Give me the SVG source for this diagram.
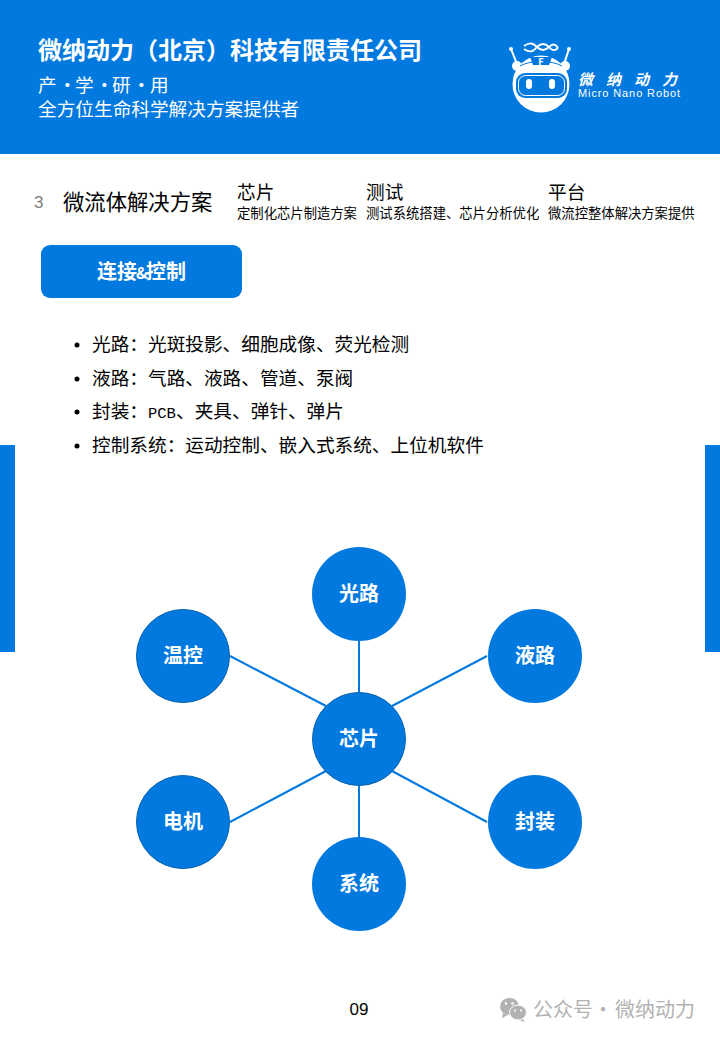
<svg xmlns="http://www.w3.org/2000/svg" width="720" height="1039" viewBox="0 0 720 1039">
<style>
text{font-family:"Noto Sans CJK SC","Liberation Sans",sans-serif}
.blue{fill:#0279de}
.n{fill:#0279de;stroke:#0a63ae;stroke-width:1}
.m{fill:#0279de}
.nt{fill:#fff;font-size:20px;font-weight:700;text-anchor:middle}
.c{stroke:#0279de;stroke-width:2;fill:none}
.b{fill:#000;font-size:18.67px}
.s{fill:#000;font-size:13.33px}
.w{fill:#fff}
</style>
<rect width="720" height="1039" fill="#fff"/>
<rect class="blue" width="720" height="154"/>
<rect class="blue" x="0" y="445" width="15" height="207"/>
<rect class="blue" x="705" y="445" width="15" height="207"/>
<text class="w" x="38" y="59" font-size="24" font-weight="700">微纳动力（北京）科技有限责任公司</text>
<text class="w" y="92" font-size="18.67" x="38 56 58 66 75 93 95 103 112 130 132 140 150">产 · 学 · 研 · 用</text>
<text class="w" x="38" y="116" font-size="18.67">全方位生命科学解决方案提供者</text>
<g id="logo">
<path d="M511 49L517 64M569 49L564 64" stroke="#fff" stroke-width="2"/>
<circle cx="511" cy="49" r="2" fill="#fff"/><circle cx="569" cy="49" r="2" fill="#fff"/>
<circle cx="517" cy="66" r="5" fill="#fff"/><circle cx="565" cy="66" r="5" fill="#fff"/>
<path d="M524 46C530 42 533 43 537 47C541 51 545 51 549 47C552 44 555 43 558 48M524 49C530 53 533 52 537 47C541 43 545 43 549 47C552 51 555 51 558 48" stroke="#fff" stroke-width="1.800" fill="none"/>
<circle cx="541" cy="84" r="28.500" fill="#fff"/>
<path d="M520 66C530 60 552 60 562 66" stroke="#0279de" stroke-width="1" fill="none"/>
<path d="M530 57H552L549 65H533Z" fill="#0279de"/>
<text class="w" x="541" y="64.500" font-size="9" font-weight="700" text-anchor="middle">F</text>
<rect x="516" y="73" width="51" height="25" rx="9" fill="#0279de"/>
<rect x="518.500" y="75.500" width="46" height="20" rx="7" fill="none" stroke="#fff" stroke-width="1"/>
<rect x="526" y="79" width="6" height="10" rx="3" fill="#fff"/><rect x="549" y="79" width="6" height="10" rx="3" fill="#fff"/>
<text class="w" x="578" y="85" font-size="15" font-weight="700" font-style="italic" letter-spacing="13">微纳动力</text>
<text class="w" x="578" y="97" style="font-family:'Liberation Sans',sans-serif" font-size="11" textLength="102">Micro Nano Robot</text>
</g>
<text x="34" y="208" font-size="17" fill="#808080" style="font-family:'Liberation Sans',sans-serif">3</text>
<text x="63" y="210" font-size="21.33" fill="#000">微流体解决方案</text>
<text class="b" x="237" y="199">芯片</text>
<text class="s" x="237" y="218">定制化芯片制造方案</text>
<text class="b" x="366" y="199">测试</text>
<text class="s" x="366" y="218">测试系统搭建、芯片分析优化</text>
<text class="b" x="548" y="199">平台</text>
<text class="s" x="548" y="218">微流控整体解决方案提供</text>
<rect class="blue" x="41" y="245" width="201" height="53" rx="9"/>
<text class="w" y="279" font-size="20" font-weight="700"><tspan x="97">连接</tspan><tspan x="136" font-size="16">&amp;</tspan><tspan x="146">控制</tspan></text>
<circle cx="77" cy="345" r="2.500"/><text class="b" x="92" y="351">光路：光斑投影、细胞成像、荧光检测</text>
<circle cx="77" cy="379" r="2.500"/><text class="b" x="92" y="385">液路：气路、液路、管道、泵阀</text>
<circle cx="77" cy="412" r="2.500"/><text class="b" x="92" y="418"><tspan x="92">封装：</tspan><tspan x="148" font-size="15.500" style="font-family:'Liberation Mono',monospace">PCB</tspan><tspan x="176">、夹具、弹针、弹片</tspan></text>
<circle cx="77" cy="446" r="2.500"/><text class="b" x="92" y="452">控制系统：运动控制、嵌入式系统、上位机软件</text>
<g id="connectors" class="c">
<line x1="359" y1="641" x2="359" y2="692"/>
<line x1="487" y1="656" x2="392" y2="706"/>
<line x1="487" y1="822" x2="392" y2="771"/>
<line x1="359" y1="786" x2="359" y2="837"/>
<line x1="230" y1="822" x2="326" y2="771"/>
<line x1="230" y1="656" x2="326" y2="706"/>
</g>
<g id="n-guang"><circle class="m" cx="359" cy="594" r="47"/><text class="nt" x="359" y="601">光路</text></g>
<g id="n-ye"><circle class="m" cx="535" cy="656" r="47"/><text class="nt" x="535" y="663">液路</text></g>
<g id="n-feng"><circle class="m" cx="535" cy="822" r="47"/><text class="nt" x="535" y="829">封装</text></g>
<g id="n-xi"><circle class="m" cx="359" cy="884" r="47"/><text class="nt" x="359" y="891">系统</text></g>
<g id="n-dian"><circle class="n" cx="183" cy="822" r="46.500"/><text class="nt" x="183" y="829">电机</text></g>
<g id="n-wen"><circle class="n" cx="183" cy="656" r="46.500"/><text class="nt" x="183" y="663">温控</text></g>
<g id="n-xin"><circle class="n" cx="359" cy="739" r="46.500"/><text class="nt" x="359" y="746">芯片</text></g>
<text x="359" y="1015" font-size="17" fill="#000" text-anchor="middle" style="font-family:'Liberation Sans',sans-serif">09</text>
<g id="watermark">
<ellipse cx="509.500" cy="1006.500" rx="9.500" ry="8.500" fill="#b2b2b2"/>
<path d="M503 1013l-1 5 6-3z" fill="#b2b2b2"/>
<path d="M522 1018l3 4-6-2z" fill="#b2b2b2"/>
<ellipse cx="518" cy="1012.500" rx="8.500" ry="7.500" fill="#b2b2b2" stroke="#fff" stroke-width="1"/>
<circle cx="506" cy="1003.500" r="1.300" fill="#fff"/><circle cx="512.500" cy="1003.500" r="1.300" fill="#fff"/>
<circle cx="515" cy="1010.500" r="1.100" fill="#fff"/><circle cx="521" cy="1010.500" r="1.100" fill="#fff"/>
<text y="1017" font-size="20" fill="#b2b2b2"><tspan x="533">公众号</tspan><tspan x="593">·</tspan><tspan x="615">微纳动力</tspan></text>
</g>
</svg>
